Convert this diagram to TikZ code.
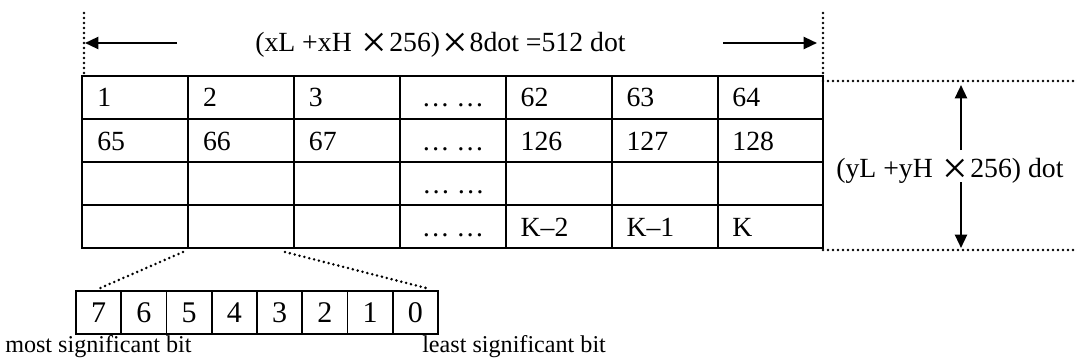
\documentclass[tikz,border=0pt]{standalone}
\usepackage{fontspec}
\setmainfont{Liberation Serif}
\usetikzlibrary{arrows.meta}
\newcommand\xmul{\hspace{1.5pt}\raisebox{-4.5pt}{\fontsize{34pt}{34pt}\selectfont ×}\hspace{1.5pt}}
\begin{document}
\begin{tikzpicture}[x=0.75pt,y=-0.75pt,
  font=\fontsize{20.8pt}{24pt}\selectfont,
  grid/.style={line width=1.5pt},
  bitbox/.style={draw, line width=1.1pt, minimum width=33.9pt, minimum height=32.25pt, inner sep=0pt, anchor=center, font=\fontsize{22.5pt}{24pt}\selectfont},
  dotline/.style={line width=2.1pt, line cap=round, dash pattern=on 0pt off 3.75pt},
  arr/.style={line width=1.7pt, -{Triangle[length=10pt,width=9pt]}},
  lbl/.style={anchor=base west, inner sep=0pt},
  small/.style={font=\fontsize{18.1pt}{22pt}\selectfont}]
\useasboundingbox (0,0) rectangle (1078,360);
% table grid
\draw[grid] (82,76) rectangle (823,248);
\foreach \x in {188,294,400,506,612,718} \draw[grid] (\x,76) -- (\x,248);
\foreach \y in {119,162,205} \draw[grid] (82,\y) -- (823,\y);
% cell texts
\foreach \t [count=\i] in {1,2,3,{… …},62,63,64}{
  \pgfmathsetmacro{\cx}{82+(\i-1)*105.86+(\i==4?22:15)}
  \node[lbl] (r1c\i) at (\cx,107) {\t};}
\foreach \t [count=\i] in {65,66,67,{… …},126,127,128}{
  \pgfmathsetmacro{\cx}{82+(\i-1)*105.86+(\i==4?22:15)}
  \node[lbl] (r2c\i) at (\cx,150) {\t};}
\node[lbl] (r3c4) at (422,193) {… …};
\foreach \t [count=\i] in {{… …},K–2,K–1,K}{
  \pgfmathsetmacro{\cx}{82+(\i+2)*105.86+(\i==1?22:15)}
  \node[lbl] (r4c\i) at (\cx,236) {\t};}
% width label and arrows
\node[lbl] (wlabel) at (255,52) {(xL +xH\hspace{6pt}\xmul256)\xmul8dot =512 dot};
\coordinate (wl1) at (177,43); \coordinate (wl2) at (85,43);
\coordinate (wr1) at (723,43); \coordinate (wr2) at (817,43);
\draw[arr] (wl1) -- (wl2);
\draw[arr] (wr1) -- (wr2);
% vertical dotted guides
\coordinate (dl1) at (84,13); \coordinate (dl2) at (84,76);
\coordinate (dr1) at (823,13); \coordinate (dr2) at (823,76);
\draw[dotline] (dl1) -- (dl2);
\draw[dotline] (dr1) -- (dr2);
% horizontal dotted guides
\coordinate (ht1) at (823,81); \coordinate (ht2) at (1078,81);
\coordinate (hb1) at (823,250); \coordinate (hb2) at (1078,250);
\draw[dotline] (ht1) -- (ht2);
\draw[dotline] (hb1) -- (hb2);
% height label and arrows
\node[lbl] (hlabel) at (836,177) {(yL +yH\hspace{6pt}\xmul256) dot};
\coordinate (hu1) at (961,150); \coordinate (hu2) at (961,85);
\coordinate (hd1) at (961,182); \coordinate (hd2) at (961,248);
\draw[arr] (hu1) -- (hu2);
\draw[arr] (hd1) -- (hd2);
% bit boxes
\foreach \b [count=\i] in {7,6,5,4,3,2,1,0}{
  \pgfmathsetmacro{\bx}{76+(\i-0.5)*45.25}
  \node[bitbox] (bit\b) at (\bx,312.5) {\b};}
% zoom lines
\coordinate (zl1) at (183,252); \coordinate (zl2) at (98,289);
\coordinate (zr1) at (285,252); \coordinate (zr2) at (430,289);
\draw[dotline] (zl1) -- (zl2);
\draw[dotline] (zr1) -- (zr2);
% bit labels
\node[lbl,small] (msb) at (5,352) {most significant bit};
\node[lbl,small] (lsb) at (422,352) {least significant bit};
\end{tikzpicture}
\end{document}
